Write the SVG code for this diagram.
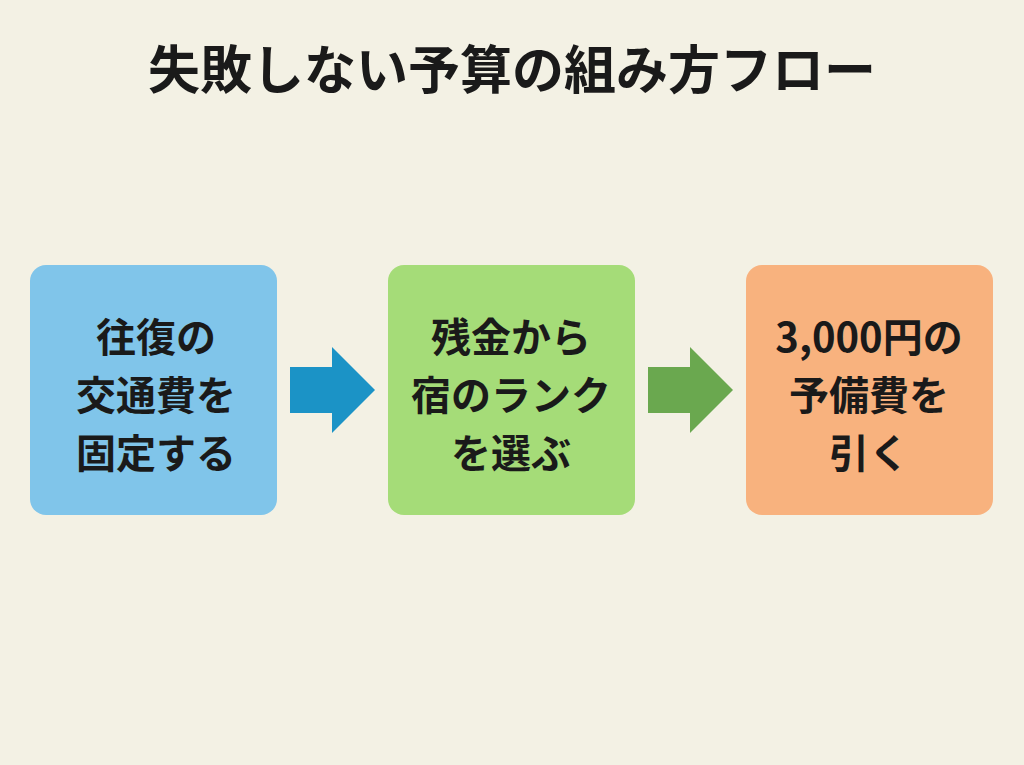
<svg xmlns="http://www.w3.org/2000/svg" width="1024" height="765" viewBox="0 0 1024 765">
<style>
text{font-family:"Noto Sans CJK JP","Noto Sans",sans-serif;font-weight:bold;fill:#1a1a1a;text-anchor:middle}
.t{font-size:52px}
.b{font-size:40px}
</style>
<rect width="1024" height="765" fill="#f3f1e4"/>
<text class="t" x="512" y="89">失敗しない予算の組み方フロー</text>
<g id="n1"><rect x="30" y="265" width="247" height="250" rx="16" fill="#80c5ea"/>
<text class="b" x="156" y="352">往復の</text><text class="b" x="156" y="410">交通費を</text><text class="b" x="156" y="468">固定する</text></g>
<g id="n2"><rect x="388" y="265" width="247" height="250" rx="16" fill="#a5dc78"/>
<text class="b" x="511" y="352">残金から</text><text class="b" x="511" y="410">宿のランク</text><text class="b" x="511" y="468">を選ぶ</text></g>
<g id="n3"><rect x="746" y="265" width="247" height="250" rx="16" fill="#f8b27e"/>
<text class="b" x="869" y="352">3,000円の</text><text class="b" x="869" y="410">予備費を</text><text class="b" x="869" y="468">引く</text></g>
<g id="connectors">
<polygon points="290,367 332,367 332,347 375,390 332,433 332,413 290,413" fill="#1b93c6"/>
<polygon points="648,367 690,367 690,347 733,390 690,433 690,413 648,413" fill="#6aa84f"/>
</g>
</svg>
